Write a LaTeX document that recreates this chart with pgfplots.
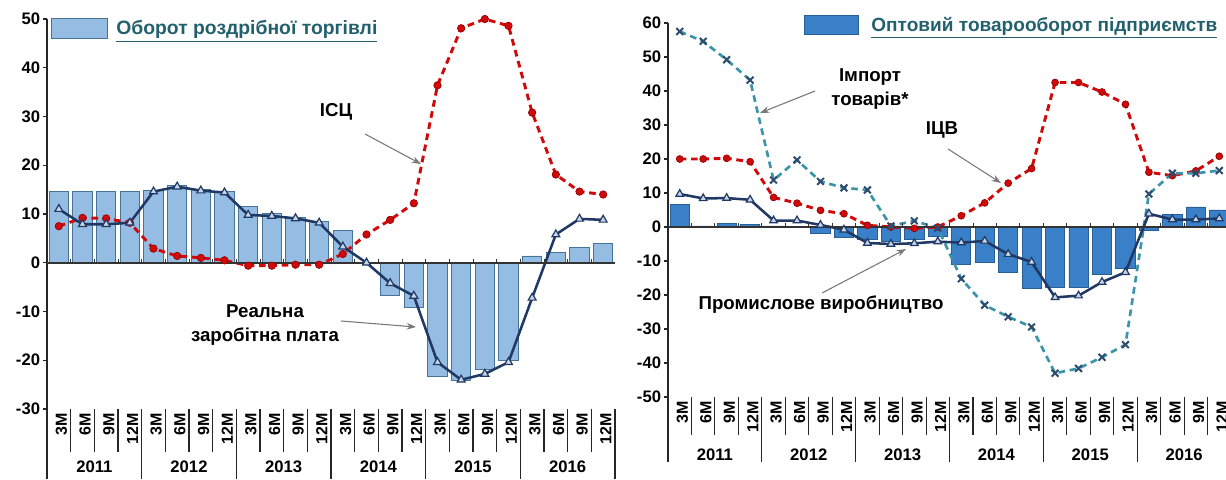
\documentclass[border=0pt]{standalone}
\usepackage{fontspec}
\setmainfont{Liberation Sans}
\usepackage{pgfplots}
\usepackage{pgfplotstable}
\pgfplotsset{compat=1.18}
\usetikzlibrary{arrows.meta}

\definecolor{barL}{RGB}{149,189,227}
\definecolor{barLd}{RGB}{70,115,150}
\definecolor{barR}{RGB}{58,128,200}
\definecolor{barRd}{RGB}{40,95,150}
\definecolor{cpired}{RGB}{208,10,10}
\definecolor{cpidark}{RGB}{150,0,0}
\definecolor{navy}{RGB}{31,56,100}
\definecolor{trifill}{RGB}{200,212,232}
\definecolor{impteal}{RGB}{60,148,170}
\definecolor{xmark}{RGB}{46,77,110}
\definecolor{legteal}{RGB}{35,96,110}
\definecolor{arrgray}{RGB}{120,120,120}

\pgfplotstableread{
x bar cpi wage
0 14.7 7.5 11.0
1 14.7 9.2 7.9
2 14.7 9.1 7.9
3 14.6 8.2 8.2
4 14.8 2.9 14.6
5 15.9 1.4 15.6
6 15.1 1.0 14.8
7 14.6 0.5 14.4
8 11.6 -0.6 9.8
9 10.2 -0.6 9.6
10 9.3 -0.4 9.1
11 8.5 -0.4 8.2
12 6.7 1.8 3.3
13 0 5.8 0
14 -6.7 8.8 -4.2
15 -9.1 12.2 -6.8
16 -23.3 36.4 -20.4
17 -24.1 48.1 -24.0
18 -21.9 50.0 -22.8
19 -20.1 48.6 -20.4
20 1.4 30.8 -7.2
21 2.1 18.1 5.8
22 3.2 14.6 9.0
23 3.9 14.0 8.8
}\lefttable

\pgfplotstableread{
x bar ppi imp prod
0 6.5 20.0 57.5 9.7
1 0.3 20.0 54.6 8.4
2 1.1 20.2 49.2 8.5
3 0.8 19.2 43.2 8.0
4 0.3 8.7 13.8 1.9
5 0.2 7.0 19.7 1.9
6 -1.9 4.9 13.4 0.6
7 -3.1 3.9 11.5 -0.8
8 -3.7 0.5 10.9 -4.7
9 -4.3 0.0 0.3 -5.0
10 -3.7 -0.4 1.8 -4.8
11 -2.9 0.0 -0.3 -4.3
12 -11.0 3.3 -15.2 -4.6
13 -10.5 7.1 -23.0 -4.1
14 -13.4 12.9 -26.4 -8.0
15 -18.0 17.2 -29.4 -10.3
16 -17.7 42.5 -43.0 -20.7
17 -17.7 42.5 -41.6 -20.2
18 -14.0 39.7 -38.3 -16.2
19 -12.1 36.1 -34.6 -13.3
20 -0.9 16.1 9.7 3.9
21 3.7 15.1 15.8 2.2
22 5.9 16.5 15.8 2.2
23 5.0 20.8 16.6 2.5
}\righttable

\pgfplotsset{
  base/.style={
    scale only axis,
    xmin=-0.5, xmax=23.5,
    clip=false,
    separate axis lines,
    axis x line*=bottom,
    axis y line*=left,
    x axis line style={draw=none},
    y axis line style={line width=1pt, black!85},
    xtick={0,...,23},
    xticklabels={3M,6M,9M,12M,3M,6M,9M,12M,3M,6M,9M,12M,3M,6M,9M,12M,3M,6M,9M,12M,3M,6M,9M,12M},
    xtick style={draw=none},
    xticklabel style={rotate=90, anchor=east, inner sep=0pt, yshift=-2pt,
      font=\fontsize{12}{13}\selectfont\bfseries},
    ytick style={line width=0.9pt, black!85},
    tick align=outside,
    major tick length=3pt,
    yticklabel style={font=\fontsize{12.5}{14}\selectfont\bfseries, inner sep=2pt},
    legend cell align=left,
  },
}

\begin{document}
\begin{tikzpicture}
\useasboundingbox (0pt,0pt) rectangle (919.5pt,359.25pt);

% ---------- left chart ----------
\begin{axis}[base,
  at={(35.25pt,52.5pt)}, anchor=south west,
  width=426pt, height=292.5pt,
  ymin=-30, ymax=50,
  ytick={-30,-20,-10,0,10,20,30,40,50},
  yticklabels={-30,-20,-10,0,10,20,30,40,50},
  legend style={at={(rel axis cs:0,1)}, anchor=north west, xshift=3pt, yshift=0.75pt,
    draw=none, fill=none, inner sep=0pt, column sep=6pt,
    nodes={inner sep=0pt},
    font=\fontsize{14.5}{16}\selectfont\bfseries, text=legteal},
]
\addplot[ybar, bar width=0.82, fill=barL, draw=barLd, line width=0.6pt,
  legend image code/.code={\draw[fill=barL, draw=barLd, line width=0.8pt] (0pt,-7.5pt) rectangle (42pt,7.5pt);}]
  table[x=x, y=bar] {\lefttable};
\addlegendentry{\underline{Оборот роздрібної торгівлі}}
\addplot[forget plot, cpired, line width=2.2pt, dash pattern=on 5pt off 3.5pt,
  mark=*, mark size=2.8pt, mark options={solid, fill=cpired, draw=cpidark, line width=0.5pt}]
  table[x=x, y=cpi] {\lefttable};
\addplot[forget plot, navy, line width=1.9pt,
  mark=triangle*, mark size=3.4pt, mark options={solid, fill=trifill, draw=navy, line width=0.9pt}]
  table[x=x, y=wage] {\lefttable};
% zero line and category marks
\draw[line width=1.4pt, black!80] (axis cs:-0.5,0) -- (axis cs:23.5,0);
\pgfplotsinvokeforeach{1,...,23}{\draw[line width=0.7pt, black!80] (axis cs:#1-0.5,0) -- ++(0pt,3pt);}
\draw[line width=1pt, black!85] (rel axis cs:0,0) -- ++(0pt,-52.5pt);
\pgfplotsinvokeforeach{1,...,23}{\draw[line width=0.8pt, black!85] (axis cs:#1-0.5,-30) -- ++(0pt,-32.25pt);}
\pgfplotsinvokeforeach{4,8,...,24}{\draw[line width=0.8pt, black!85] (axis cs:#1-0.5,-30) -- ++(0pt,-52.5pt);}
\pgfplotsinvokeforeach{0,...,5}{\node[font=\fontsize{12.5}{14}\selectfont\bfseries] at (axis cs:4*#1+1.5,-30) [yshift=-43.5pt] {\the\numexpr2011+#1\relax};}
\end{axis}

% ---------- right chart ----------
\begin{axis}[base,
  at={(501pt,61.5pt)}, anchor=south west,
  width=422.25pt, height=280.5pt,
  ymin=-50, ymax=60,
  ytick={-50,-40,-30,-20,-10,0,10,20,30,40,50,60},
  yticklabels={-50,-40,-30,-20,-10,0,10,20,30,40,50,60},
  legend style={at={(rel axis cs:0,1)}, anchor=north west, xshift=102pt, yshift=6pt,
    draw=none, fill=none, inner sep=0pt, column sep=9pt,
    nodes={inner sep=0pt},
    font=\fontsize{14.3}{16}\selectfont\bfseries, text=legteal},
]
\addplot[ybar, bar width=0.82, fill=barR, draw=barRd, line width=0.6pt,
  legend image code/.code={\draw[fill=barR, draw=barRd, line width=0.8pt] (0pt,-7.1pt) rectangle (40.5pt,7.1pt);}]
  table[x=x, y=bar] {\righttable};
\addlegendentry{\underline{Оптовий товарооборот підприємств}}
\addplot[forget plot, cpired, line width=2.2pt, dash pattern=on 5pt off 3.5pt,
  mark=*, mark size=2.6pt, mark options={solid, fill=cpired, draw=cpidark, line width=0.5pt}]
  table[x=x, y=ppi] {\righttable};
\addplot[forget plot, impteal, line width=2pt, dash pattern=on 5pt off 3.5pt,
  mark=x, mark size=3.6pt, mark options={solid, draw=xmark, line width=1.5pt}]
  table[x=x, y=imp] {\righttable};
\addplot[forget plot, navy, line width=1.9pt,
  mark=triangle*, mark size=3.3pt, mark options={solid, fill=trifill, draw=navy, line width=0.9pt}]
  table[x=x, y=prod] {\righttable};
\draw[line width=1.4pt, black!80] (axis cs:-0.5,0) -- (axis cs:23.5,0);
\pgfplotsinvokeforeach{1,...,23}{\draw[line width=0.7pt, black!80] (axis cs:#1-0.5,0) -- ++(0pt,3pt);}
\draw[line width=1pt, black!85] (rel axis cs:0,0) -- ++(0pt,-48.75pt);
\pgfplotsinvokeforeach{1,...,23}{\draw[line width=0.8pt, black!85] (axis cs:#1-0.5,-50) -- ++(0pt,-28.5pt);}
\pgfplotsinvokeforeach{4,8,...,24}{\draw[line width=0.8pt, black!85] (axis cs:#1-0.5,-50) -- ++(0pt,-48.75pt);}
\pgfplotsinvokeforeach{0,...,5}{\node[font=\fontsize{12.5}{14}\selectfont\bfseries] at (axis cs:4*#1+1.5,-50) [yshift=-43.5pt] {\the\numexpr2011+#1\relax};}
\end{axis}

% ---------- annotations (pixel units) ----------
\begin{scope}[x=0.75pt, y=0.75pt, font=\fontsize{14}{18.5}\selectfont\bfseries]
\node at (336,367) {ІСЦ};
\draw[arrgray, line width=0.8pt, -{Stealth[length=7pt, width=5pt]}] (365,345) -- (421,315);
\node[align=center] at (265,154) {Реальна\\заробітна плата};
\draw[arrgray, line width=0.8pt, -{Stealth[length=7pt, width=5pt]}] (341,158) -- (416,152);
\node[align=center] at (870,390) {Імпорт\\товарів*};
\draw[arrgray, line width=0.8pt, -{Stealth[length=7pt, width=5pt]}] (815,388) -- (760,366);
\node at (942,349) {ІЦВ};
\draw[arrgray, line width=0.8pt, -{Stealth[length=7pt, width=5pt]}] (948,330) -- (1001,296);
\node at (821,174) {Промислове виробництво};
\draw[arrgray, line width=0.8pt, -{Stealth[length=7pt, width=5pt]}] (822,186) -- (906,230);
\end{scope}
\end{tikzpicture}
\end{document}
